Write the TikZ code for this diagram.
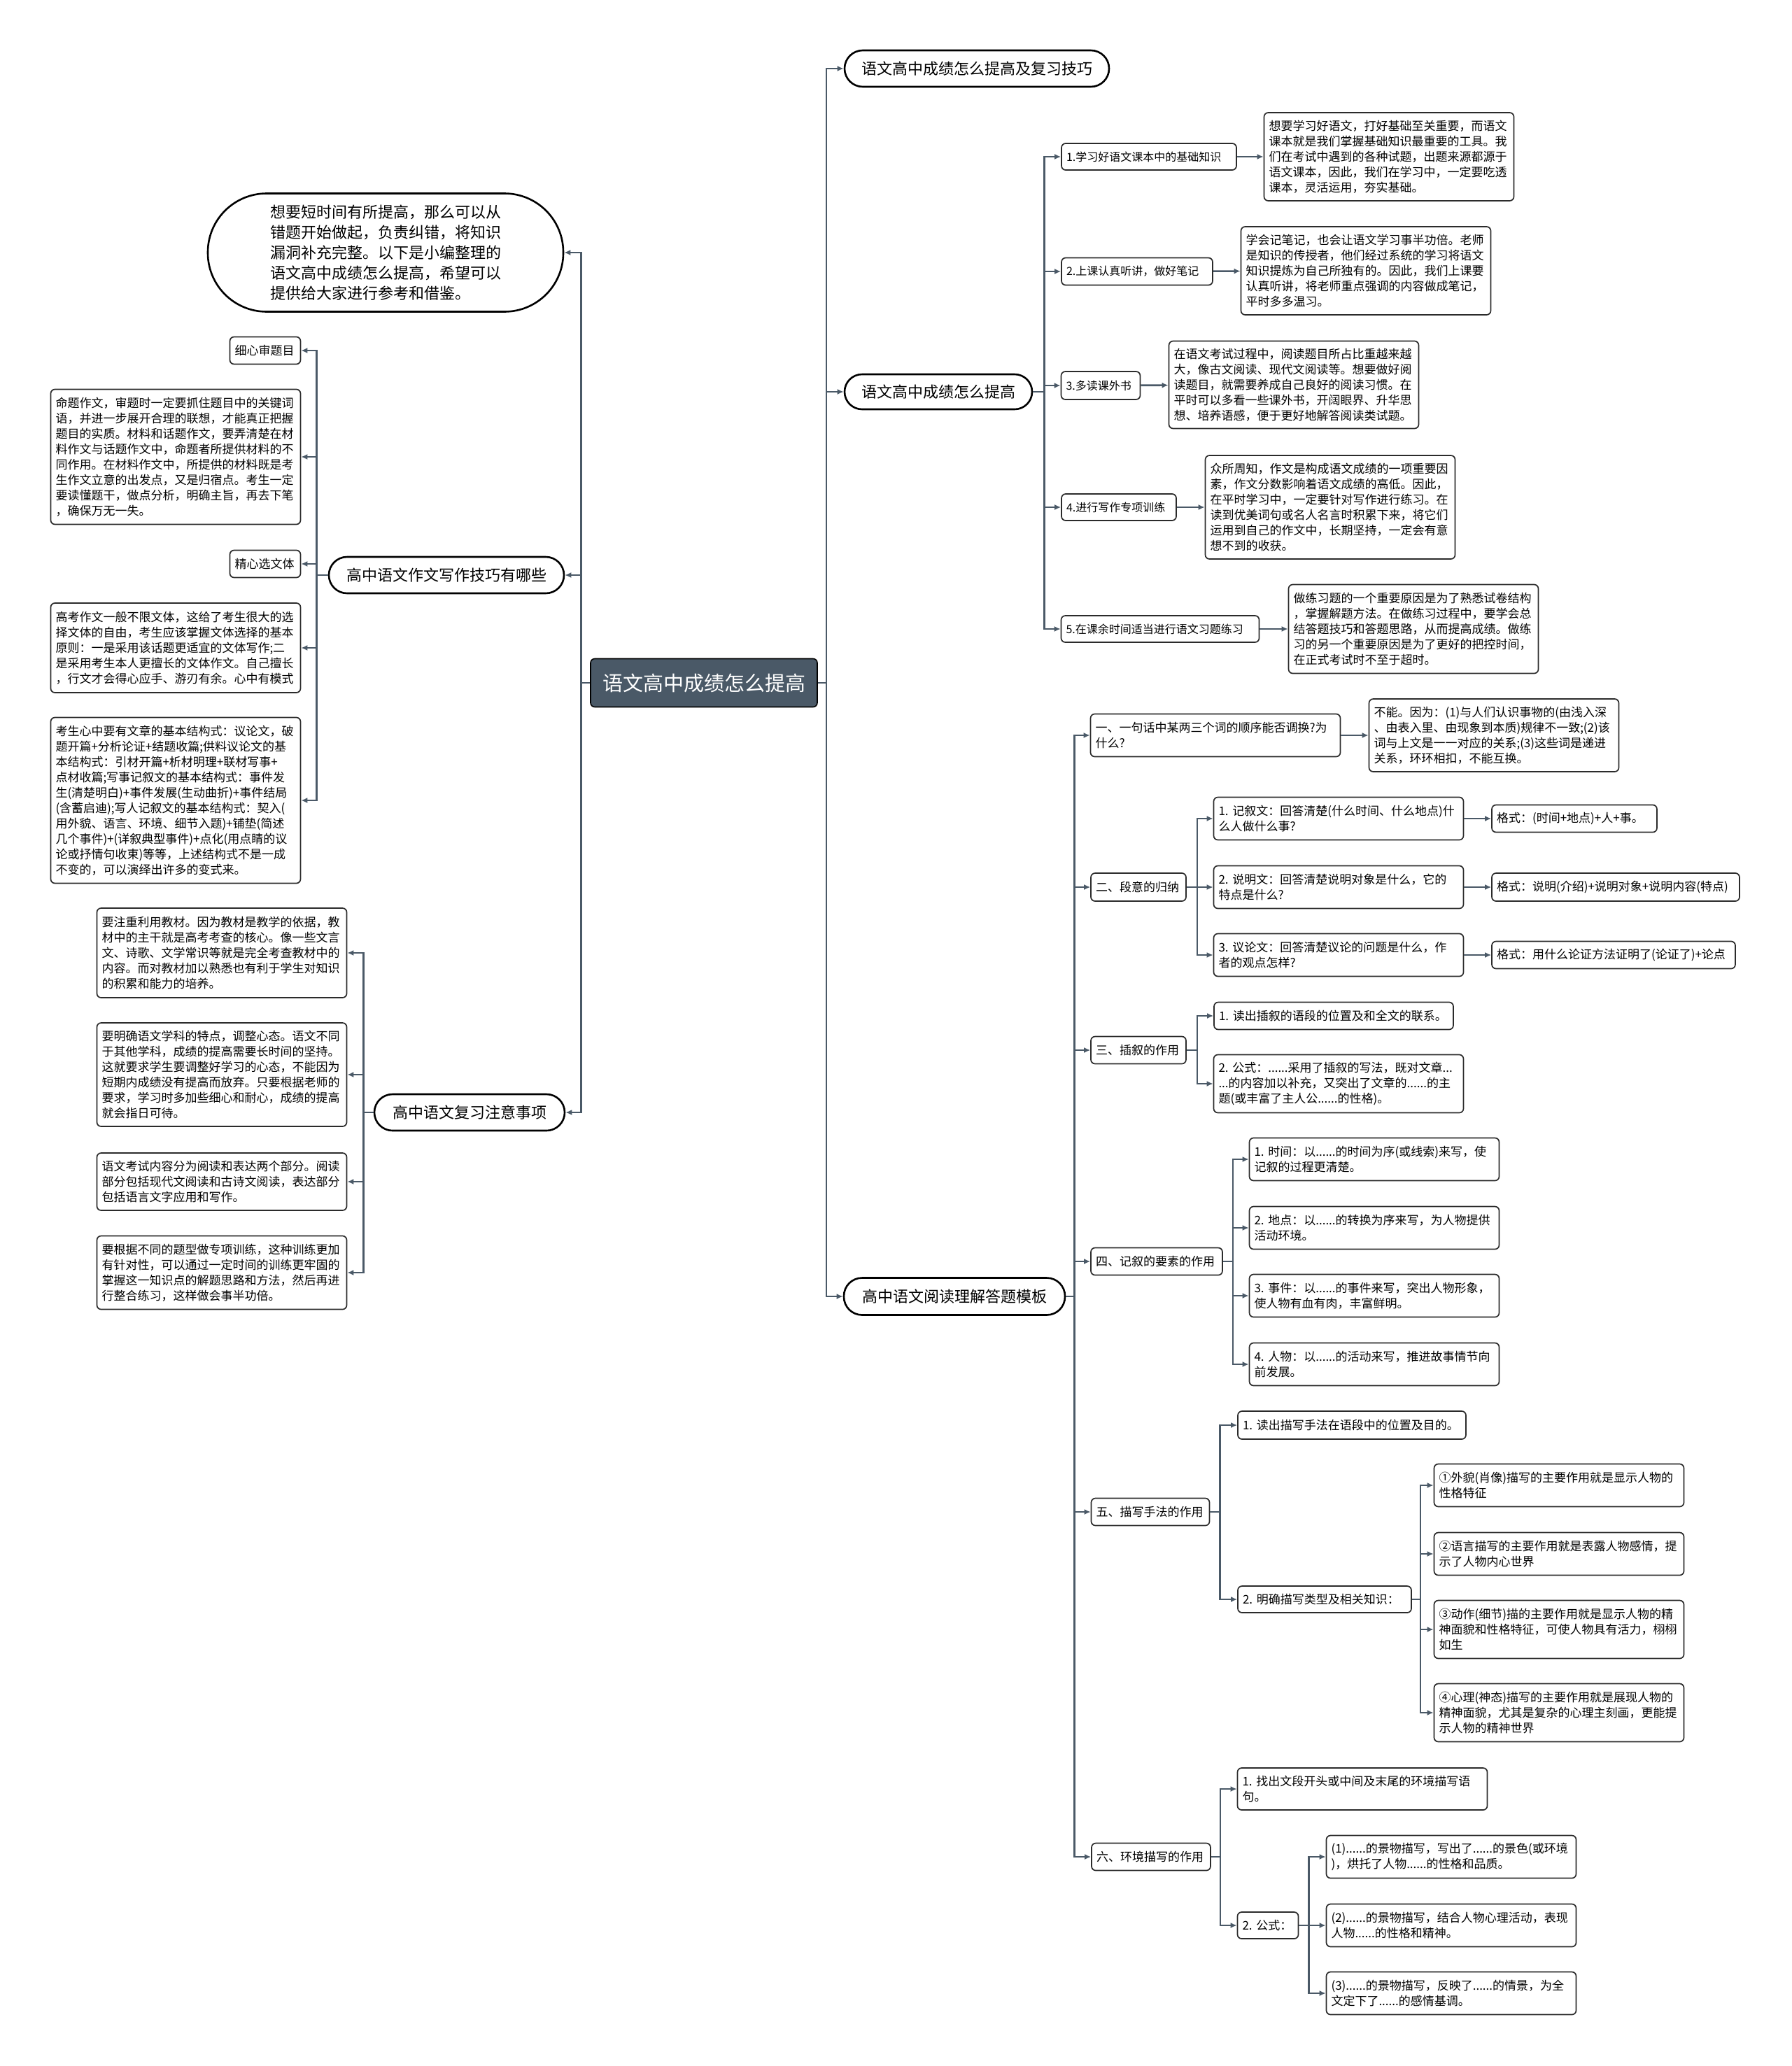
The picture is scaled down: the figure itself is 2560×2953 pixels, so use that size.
\documentclass[tikz,border=0pt]{standalone}
\usepackage{fontspec}
\setmainfont{Noto Sans CJK SC}
\usetikzlibrary{arrows.meta}
\definecolor{slate}{HTML}{4A5967}
\definecolor{edge}{HTML}{2B2B2B}

\begin{document}
\begin{tikzpicture}[
  x=1pt, y=-1pt,
  root/.style={rectangle, draw=black, line width=1.6pt, fill=slate, rounded corners=6pt, text=white, align=center, inner sep=0pt, font=\fontsize{29}{36}\selectfont},
  topic/.style={rectangle, draw=black, line width=2.6pt, fill=white, align=center, inner sep=0pt, font=\fontsize{22}{29}\selectfont},
  item/.style={rectangle, draw=edge, line width=1.7pt, fill=white, rounded corners=6pt, align=left, inner xsep=7pt, inner ysep=0pt, font=\fontsize{17}{22}\selectfont},
  tag/.style={item, font=\fontsize{16}{22}\selectfont},
  note/.style={item, text width=343pt},
  link/.style={draw=slate, line width=2.6pt, -{Latex[length=9pt,width=8pt]}}
]
\fill[white] (0,0) rectangle (2560,2953);
\useasboundingbox (0,0) rectangle (2560,2953);

\node[root, minimum width=324pt, minimum height=69pt] (root) at (1006,976) {语文高中成绩怎么提高};

% right branches
\node[topic, minimum width=378pt, minimum height=52pt, rounded corners=26pt] (t1) at (1396,98) {语文高中成绩怎么提高及复习技巧};
\node[topic, minimum width=268pt, minimum height=50pt, rounded corners=25pt] (t2) at (1341,560) {语文高中成绩怎么提高};
\node[topic, minimum width=316pt, minimum height=53pt, rounded corners=26pt] (t3) at (1364,1853) {高中语文阅读理解答题模板};

\node[tag, text width=236pt, minimum height=38pt] (a1) at (1642,224) {1.学习好语文课本中的基础知识};
\node[note, minimum height=126pt] (a1d) at (1985,224) {想要学习好语文，打好基础至关重要，而语文\\课本就是我们掌握基础知识最重要的工具。我\\们在考试中遇到的各种试题，出题来源都源于\\语文课本，因此，我们在学习中，一定要吃透\\课本，灵活运用，夯实基础。};
\node[tag, text width=202pt, minimum height=39pt] (a2) at (1625,388) {2.上课认真听讲，做好笔记};
\node[note, minimum height=126pt] (a2d) at (1952,387) {学会记笔记，也会让语文学习事半功倍。老师\\是知识的传授者，他们经过系统的学习将语文\\知识提炼为自己所独有的。因此，我们上课要\\认真听讲，将老师重点强调的内容做成笔记，\\平时多多温习。};
\node[tag, text width=99pt, minimum height=40pt] (a3) at (1573,551) {3.多读课外书};
\node[note, minimum height=125pt] (a3d) at (1849,550) {在语文考试过程中，阅读题目所占比重越来越\\大，像古文阅读、现代文阅读等。想要做好阅\\读题目，就需要养成自己良好的阅读习惯。在\\平时可以多看一些课外书，开阔眼界、升华思\\想、培养语感，便于更好地解答阅读类试题。};
\node[tag, text width=150pt, minimum height=38pt] (a4) at (1599,725) {4.进行写作专项训练};
\node[note, minimum height=148pt] (a4d) at (1901,725) {众所周知，作文是构成语文成绩的一项重要因\\素，作文分数影响着语文成绩的高低。因此，\\在平时学习中，一定要针对写作进行练习。在\\读到优美词句或名人名言时积累下来，将它们\\运用到自己的作文中，长期坚持，一定会有意\\想不到的收获。};
\node[tag, text width=269pt, minimum height=38pt] (a5) at (1658,899) {5.在课余时间适当进行语文习题练习};
\node[note, minimum height=127pt] (a5d) at (2020,899) {做练习题的一个重要原因是为了熟悉试卷结构\\，掌握解题方法。在做练习过程中，要学会总\\结答题技巧和答题思路，从而提高成绩。做练\\习的另一个重要原因是为了更好的把控时间，\\在正式考试时不至于超时。};

\node[note, minimum height=61pt] (b1) at (1737,1051) {一、一句话中某两三个词的顺序能否调换?为\\什么?};
\node[note, minimum height=104pt] (b1d) at (2135,1051) {不能。因为：(1)与人们认识事物的(由浅入深\\、由表入里、由现象到本质)规律不一致;(2)该\\词与上文是一一对应的关系;(3)这些词是递进\\关系，环环相扣，不能互换。};
\node[item, text width=122pt, minimum height=40pt] (b2) at (1627,1268) {二、段意的归纳};
\node[note, minimum height=61pt] (b21) at (1913,1170) {1.~记叙文：回答清楚(什么时间、什么地点)什\\么人做什么事?};
\node[item, text width=222pt, minimum height=39pt] (b21f) at (2250,1170) {格式：(时间+地点)+人+事。};
\node[note, minimum height=61pt] (b22) at (1913,1268) {2.~说明文：回答清楚说明对象是什么，它的\\特点是什么?};
\node[item, text width=340pt, minimum height=40pt] (b22f) at (2309,1268) {格式：说明(介绍)+说明对象+说明内容(特点)};
\node[note, minimum height=61pt] (b23) at (1913,1365) {3.~议论文：回答清楚议论的问题是什么，作\\者的观点怎样?};
\node[item, text width=334pt, minimum height=39pt] (b23f) at (2306,1365) {格式：用什么论证方法证明了(论证了)+论点};
\node[item, text width=122pt, minimum height=39pt] (b3) at (1627,1501) {三、插叙的作用};
\node[item, text width=328pt, minimum height=39pt] (b31) at (1906,1452) {1.~读出插叙的语段的位置及和全文的联系。};
\node[note, minimum height=83pt] (b32) at (1913,1549) {2.~公式：......采用了插叙的写法，既对文章...\\...的内容加以补充，又突出了文章的......的主\\题(或丰富了主人公......的性格)。};
\node[item, text width=174pt, minimum height=39pt] (b4) at (1653,1803) {四、记叙的要素的作用};
\node[note, minimum height=61pt] (b41) at (1964,1657) {1.~时间：以......的时间为序(或线索)来写，使\\记叙的过程更清楚。};
\node[note, minimum height=61pt] (b42) at (1964,1755) {2.~地点：以......的转换为序来写，为人物提供\\活动环境。};
\node[note, minimum height=61pt] (b43) at (1964,1852) {3.~事件：以......的事件来写，突出人物形象，\\使人物有血有肉，丰富鲜明。};
\node[note, minimum height=61pt] (b44) at (1964,1950) {4.~人物：以......的活动来写，推进故事情节向\\前发展。};
\node[item, text width=155pt, minimum height=39pt] (b5) at (1644,2161) {五、描写手法的作用};
\node[item, text width=312pt, minimum height=40pt] (b51) at (1932,2037) {1.~读出描写手法在语段中的位置及目的。};
\node[item, text width=234pt, minimum height=38pt] (b52) at (1893,2286) {2.~明确描写类型及相关知识：};
\node[note, minimum height=61pt] (b521) at (2228,2123) {①外貌(肖像)描写的主要作用就是显示人物的\\性格特征};
\node[note, minimum height=61pt] (b522) at (2228,2221) {②语言描写的主要作用就是表露人物感情，提\\示了人物内心世界};
\node[note, minimum height=83pt] (b523) at (2228,2329) {③动作(细节)描的主要作用就是显示人物的精\\神面貌和性格特征，可使人物具有活力，栩栩\\如生};
\node[note, minimum height=83pt] (b524) at (2228,2448) {④心理(神态)描写的主要作用就是展现人物的\\精神面貌，尤其是复杂的心理主刻画，更能提\\示人物的精神世界};
\node[item, text width=156pt, minimum height=39pt] (b6) at (1645,2654) {六、环境描写的作用};
\node[note, minimum height=60pt] (b61) at (1947,2557) {1.~找出文段开头或中间及末尾的环境描写语\\句。};
\node[item, text width=73pt, minimum height=38pt] (b62) at (1812,2752) {2.~公式：};
\node[note, minimum height=61pt] (b621) at (2074,2654) {(1)......的景物描写，写出了......的景色(或环境\\)，烘托了人物......的性格和品质。};
\node[note, minimum height=61pt] (b622) at (2074,2752) {(2)......的景物描写，结合人物心理活动，表现\\人物......的性格和精神。};
\node[note, minimum height=61pt] (b623) at (2074,2849) {(3)......的景物描写，反映了......的情景，为全\\文定下了......的感情基调。};

% left branches
\node[topic, text width=330pt, inner xsep=89pt, align=left, minimum height=169pt, rounded corners=84pt] (intro) at (551,361) {想要短时间有所提高，那么可以从\\错题开始做起，负责纠错，将知识\\漏洞补充完整。以下是小编整理的\\语文高中成绩怎么提高，希望可以\\提供给大家进行参考和借鉴。};
\node[topic, minimum width=336pt, minimum height=52pt, rounded corners=26pt] (lt1) at (638,822) {高中语文作文写作技巧有哪些};
\node[topic, minimum width=272pt, minimum height=52pt, rounded corners=26pt] (lt2) at (671,1590) {高中语文复习注意事项};

\node[item, text width=87pt, minimum height=39pt] (c1) at (379,501) {细心审题目};
\node[note, minimum height=193pt] (c2) at (251,653) {命题作文，审题时一定要抓住题目中的关键词\\语，并进一步展开合理的联想，才能真正把握\\题目的实质。材料和话题作文，要弄清楚在材\\料作文与话题作文中，命题者所提供材料的不\\同作用。在材料作文中，所提供的材料既是考\\生作文立意的出发点，又是归宿点。考生一定\\要读懂题干，做点分析，明确主旨，再去下笔\\，确保万无一失。};
\node[item, text width=87pt, minimum height=39pt] (c3) at (379,806) {精心选文体};
\node[note, minimum height=128pt] (c4) at (251,926) {高考作文一般不限文体，这给了考生很大的选\\择文体的自由，考生应该掌握文体选择的基本\\原则：一是采用该话题更适宜的文体写作;二\\是采用考生本人更擅长的文体作文。自己擅长\\，行文才会得心应手、游刃有余。心中有模式};
\node[note, minimum height=237pt] (c5) at (251,1144) {考生心中要有文章的基本结构式：议论文，破\\题开篇+分析论证+结题收篇;供料议论文的基\\本结构式：引材开篇+析材明理+联材写事+\\点材收篇;写事记叙文的基本结构式：事件发\\生(清楚明白)+事件发展(生动曲折)+事件结局\\(含蓄启迪);写人记叙文的基本结构式：契入(\\用外貌、语言、环境、细节入题)+铺垫(简述\\几个事件)+(详叙典型事件)+点化(用点睛的议\\论或抒情句收束)等等，上述结构式不是一成\\不变的，可以演绎出许多的变式来。};

\node[note, minimum height=128pt] (d1) at (317,1362) {要注重利用教材。因为教材是教学的依据，教\\材中的主干就是高考考查的核心。像一些文言\\文、诗歌、文学常识等就是完全考查教材中的\\内容。而对教材加以熟悉也有利于学生对知识\\的积累和能力的培养。};
\node[note, minimum height=148pt] (d2) at (317,1536) {要明确语文学科的特点，调整心态。语文不同\\于其他学科，成绩的提高需要长时间的坚持。\\这就要求学生要调整好学习的心态，不能因为\\短期内成绩没有提高而放弃。只要根据老师的\\要求，学习时多加些细心和耐心，成绩的提高\\就会指日可待。};
\node[note, minimum height=82pt] (d3) at (317,1689) {语文考试内容分为阅读和表达两个部分。阅读\\部分包括现代文阅读和古诗文阅读，表达部分\\包括语言文字应用和写作。};
\node[note, minimum height=105pt] (d4) at (317,1819) {要根据不同的题型做专项训练，这种训练更加\\有针对性，可以通过一定时间的训练更牢固的\\掌握这一知识点的解题思路和方法，然后再进\\行整合练习，这样做会事半功倍。};

% connectors
\draw[link] (root.east) -- ++(12,0) |- (t1.west);
\draw[link] (root.east) -- ++(12,0) |- (t2.west);
\draw[link] (root.east) -- ++(12,0) |- (t3.west);
\draw[link] (root.west) -- ++(-13,0) |- (intro.east);
\draw[link] (root.west) -- ++(-13,0) |- (lt1.east);
\draw[link] (root.west) -- ++(-13,0) |- (lt2.east);

\draw[link] (t2.east) -- ++(16,0) |- (a1.west);
\draw[link] (t2.east) -- ++(16,0) |- (a2.west);
\draw[link] (t2.east) -- ++(16,0) |- (a3.west);
\draw[link] (t2.east) -- ++(16,0) |- (a4.west);
\draw[link] (t2.east) -- ++(16,0) |- (a5.west);
\draw[link] (a1) -- (a1d);
\draw[link] (a2) -- (a2d);
\draw[link] (a3) -- (a3d);
\draw[link] (a4) -- (a4d);
\draw[link] (a5) -- (a5d);

\draw[link] (t3.east) -- ++(12,0) |- (b1.west);
\draw[link] (t3.east) -- ++(12,0) |- (b2.west);
\draw[link] (t3.east) -- ++(12,0) |- (b3.west);
\draw[link] (t3.east) -- ++(12,0) |- (b4.west);
\draw[link] (t3.east) -- ++(12,0) |- (b5.west);
\draw[link] (t3.east) -- ++(12,0) |- (b6.west);
\draw[link] (b1) -- (b1d);
\draw[link] (b2.east) -- ++(15,0) |- (b21.west);
\draw[link] (b2.east) -- ++(15,0) |- (b22.west);
\draw[link] (b2.east) -- ++(15,0) |- (b23.west);
\draw[link] (b21) -- (b21f);
\draw[link] (b22) -- (b22f);
\draw[link] (b23) -- (b23f);
\draw[link] (b3.east) -- ++(15,0) |- (b31.west);
\draw[link] (b3.east) -- ++(15,0) |- (b32.west);
\draw[link] (b4.east) -- ++(14,0) |- (b41.west);
\draw[link] (b4.east) -- ++(14,0) |- (b42.west);
\draw[link] (b4.east) -- ++(14,0) |- (b43.west);
\draw[link] (b4.east) -- ++(14,0) |- (b44.west);
\draw[link] (b5.east) -- ++(14,0) |- (b51.west);
\draw[link] (b5.east) -- ++(14,0) |- (b52.west);
\draw[link] (b52.east) -- ++(12,0) |- (b521.west);
\draw[link] (b52.east) -- ++(12,0) |- (b522.west);
\draw[link] (b52.east) -- ++(12,0) |- (b523.west);
\draw[link] (b52.east) -- ++(12,0) |- (b524.west);
\draw[link] (b6.east) -- ++(13,0) |- (b61.west);
\draw[link] (b6.east) -- ++(13,0) |- (b62.west);
\draw[link] (b62.east) -- ++(14,0) |- (b621.west);
\draw[link] (b62.east) -- ++(14,0) |- (b622.west);
\draw[link] (b62.east) -- ++(14,0) |- (b623.west);

\draw[link] (lt1.west) -- ++(-16,0) |- (c1.east);
\draw[link] (lt1.west) -- ++(-16,0) |- (c2.east);
\draw[link] (lt1.west) -- ++(-16,0) |- (c3.east);
\draw[link] (lt1.west) -- ++(-16,0) |- (c4.east);
\draw[link] (lt1.west) -- ++(-16,0) |- (c5.east);
\draw[link] (lt2.west) -- ++(-14,0) |- (d1.east);
\draw[link] (lt2.west) -- ++(-14,0) |- (d2.east);
\draw[link] (lt2.west) -- ++(-14,0) |- (d3.east);
\draw[link] (lt2.west) -- ++(-14,0) |- (d4.east);
\end{tikzpicture}
\end{document}
